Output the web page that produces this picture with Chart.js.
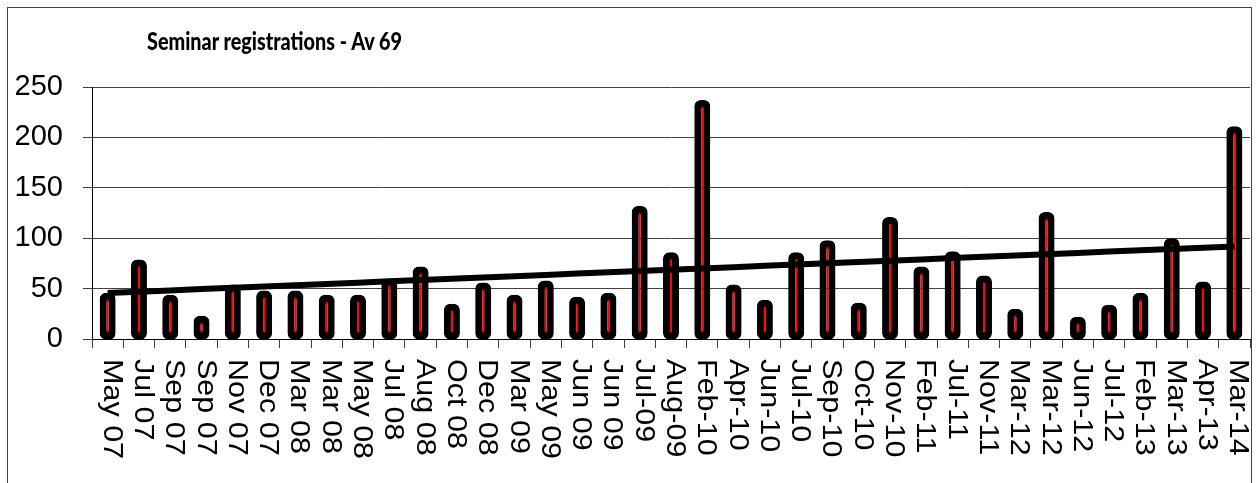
<!DOCTYPE html>
<html>
<head>
<meta charset="utf-8">
<script src="https://cdn.jsdelivr.net/npm/chart.js@4.4.1/dist/chart.umd.min.js"></script>
<style>
html, body { margin: 0; padding: 0; background: #fff; }
#wrap { position: relative; width: 1258px; height: 483px; overflow: hidden; }
#frame { position: absolute; left: 7px; top: 7px; width: 1245px; height: 520px; border: 1px solid #404040; box-sizing: border-box; }
#title { position: absolute; left: 147px; top: 29px; font: 900 24px/24px Lato, sans-serif; color: #000; white-space: nowrap; transform-origin: 0 0; }
canvas { position: absolute; left: 0; top: 0; }
</style>
</head>
<body>
<div id="wrap">
<canvas id="seminarChart" width="1258" height="483"></canvas>
<div id="frame"></div>
<div id="title">Seminar registrations - Av 69</div>
</div>
<script>
// Chart data
const categories = ['May 07', 'Jul 07', 'Sep 07', 'Sep 07', 'Nov 07', 'Dec 07', 'Mar 08', 'Mar 08', 'May 08',
  'Jul 08', 'Aug 08', 'Oct 08', 'Dec 08', 'Mar 09', 'May 09', 'Jun 09', 'Jun 09', 'Jul-09', 'Aug-09',
  'Feb-10', 'Apr-10', 'Jun-10', 'Jul-10', 'Sep-10', 'Oct-10', 'Nov-10', 'Feb-11', 'Jul-11', 'Nov-11',
  'Mar-12', 'Mar-12', 'Jun-12', 'Jul-12', 'Feb-13', 'Mar-13', 'Apr-13', 'Mar-14'];
const registrations = [45, 78, 43, 22, 53, 47, 47, 43, 43, 59, 71, 34, 55, 43, 57, 41, 45, 131, 85,
  236, 53, 38, 85, 97, 35, 120, 71, 86, 62, 29, 125, 21, 33, 45, 99, 56, 210];
const yTicks = [0, 50, 100, 150, 200, 250];

// squeeze the title into the width the original uses (Calibri is narrow)
const titleEl = document.getElementById('title');
titleEl.style.transform = 'scaleX(' + (255 / titleEl.offsetWidth) + ')';

// Linear trendline (least squares over the registrations)
const n = registrations.length;
const meanX = (n - 1) / 2;
const meanY = registrations.reduce((a, b) => a + b, 0) / n;
let sxy = 0, sxx = 0;
registrations.forEach((v, i) => {
  sxy += (i - meanX) * (v - meanY);
  sxx += (i - meanX) * (i - meanX);
});
const slope = sxy / sxx;
const trend = registrations.map((v, i) => meanY + slope * (i - meanX));

// x labels read downwards (rotated clockwise), which Chart.js can't do itself
const downwardLabels = {
  id: 'downwardLabels',
  afterDraw(chart) {
    const ctx = chart.ctx;
    const xs = chart.scales.x;
    ctx.save();
    ctx.font = '28px "Liberation Sans", Arial, sans-serif';
    ctx.fillStyle = '#000';
    ctx.textAlign = 'left';
    ctx.textBaseline = 'alphabetic';
    categories.forEach((label, i) => {
      ctx.save();
      ctx.translate(xs.getPixelForValue(i), xs.top + 20);
      ctx.rotate(Math.PI / 2);
      ctx.scale(1.09, 1);
      ctx.fillText(label, 0, 4);
      ctx.restore();
    });
    ctx.restore();
  }
};

const ctx = document.getElementById('seminarChart').getContext('2d');
new Chart(ctx, {
  type: 'bar',
  data: {
    labels: categories,
    datasets: [{
      type: 'line',
      data: trend,
      borderColor: '#000',
      borderWidth: 6,
      pointRadius: 0,
      tension: 0,
      fill: false,
      order: 0
    }, {
      type: 'bar',
      data: registrations,
      backgroundColor: '#ff0000',
      borderColor: '#000',
      borderWidth: 7,
      borderSkipped: false,
      borderRadius: 6,
      barThickness: 14,
      inflateAmount: 1,
      order: 1
    }]
  },
  options: {
    responsive: false,
    animation: false,
    devicePixelRatio: 1,
    layout: {
      padding: { left: 12, right: 8, top: 87, bottom: 0 }
    },
    plugins: {
      legend: { display: false },
      title: { display: false },
      tooltip: { enabled: false }
    },
    scales: {
      x: {
        offset: true,
        ticks: { display: false },
        grid: {
          display: true,
          drawOnChartArea: false,
          drawTicks: true,
          tickLength: 9,
          color: '#404040',
          offset: true
        },
        border: { display: true, color: '#000' },
        afterFit(scale) { scale.height = 144; }
      },
      y: {
        min: 0,
        max: 250,
        afterBuildTicks(scale) {
          scale.ticks = yTicks.map(v => ({ value: v }));
        },
        ticks: {
          font: { family: 'Liberation Sans', size: 29 },
          color: '#000',
          padding: 20
        },
        grid: { color: '#404040', tickLength: 9, lineWidth: 1 },
        border: { color: '#000' },
        afterFit(scale) { scale.width = 80; }
      }
    }
  },
  plugins: [downwardLabels]
});
</script>
</body>
</html>
